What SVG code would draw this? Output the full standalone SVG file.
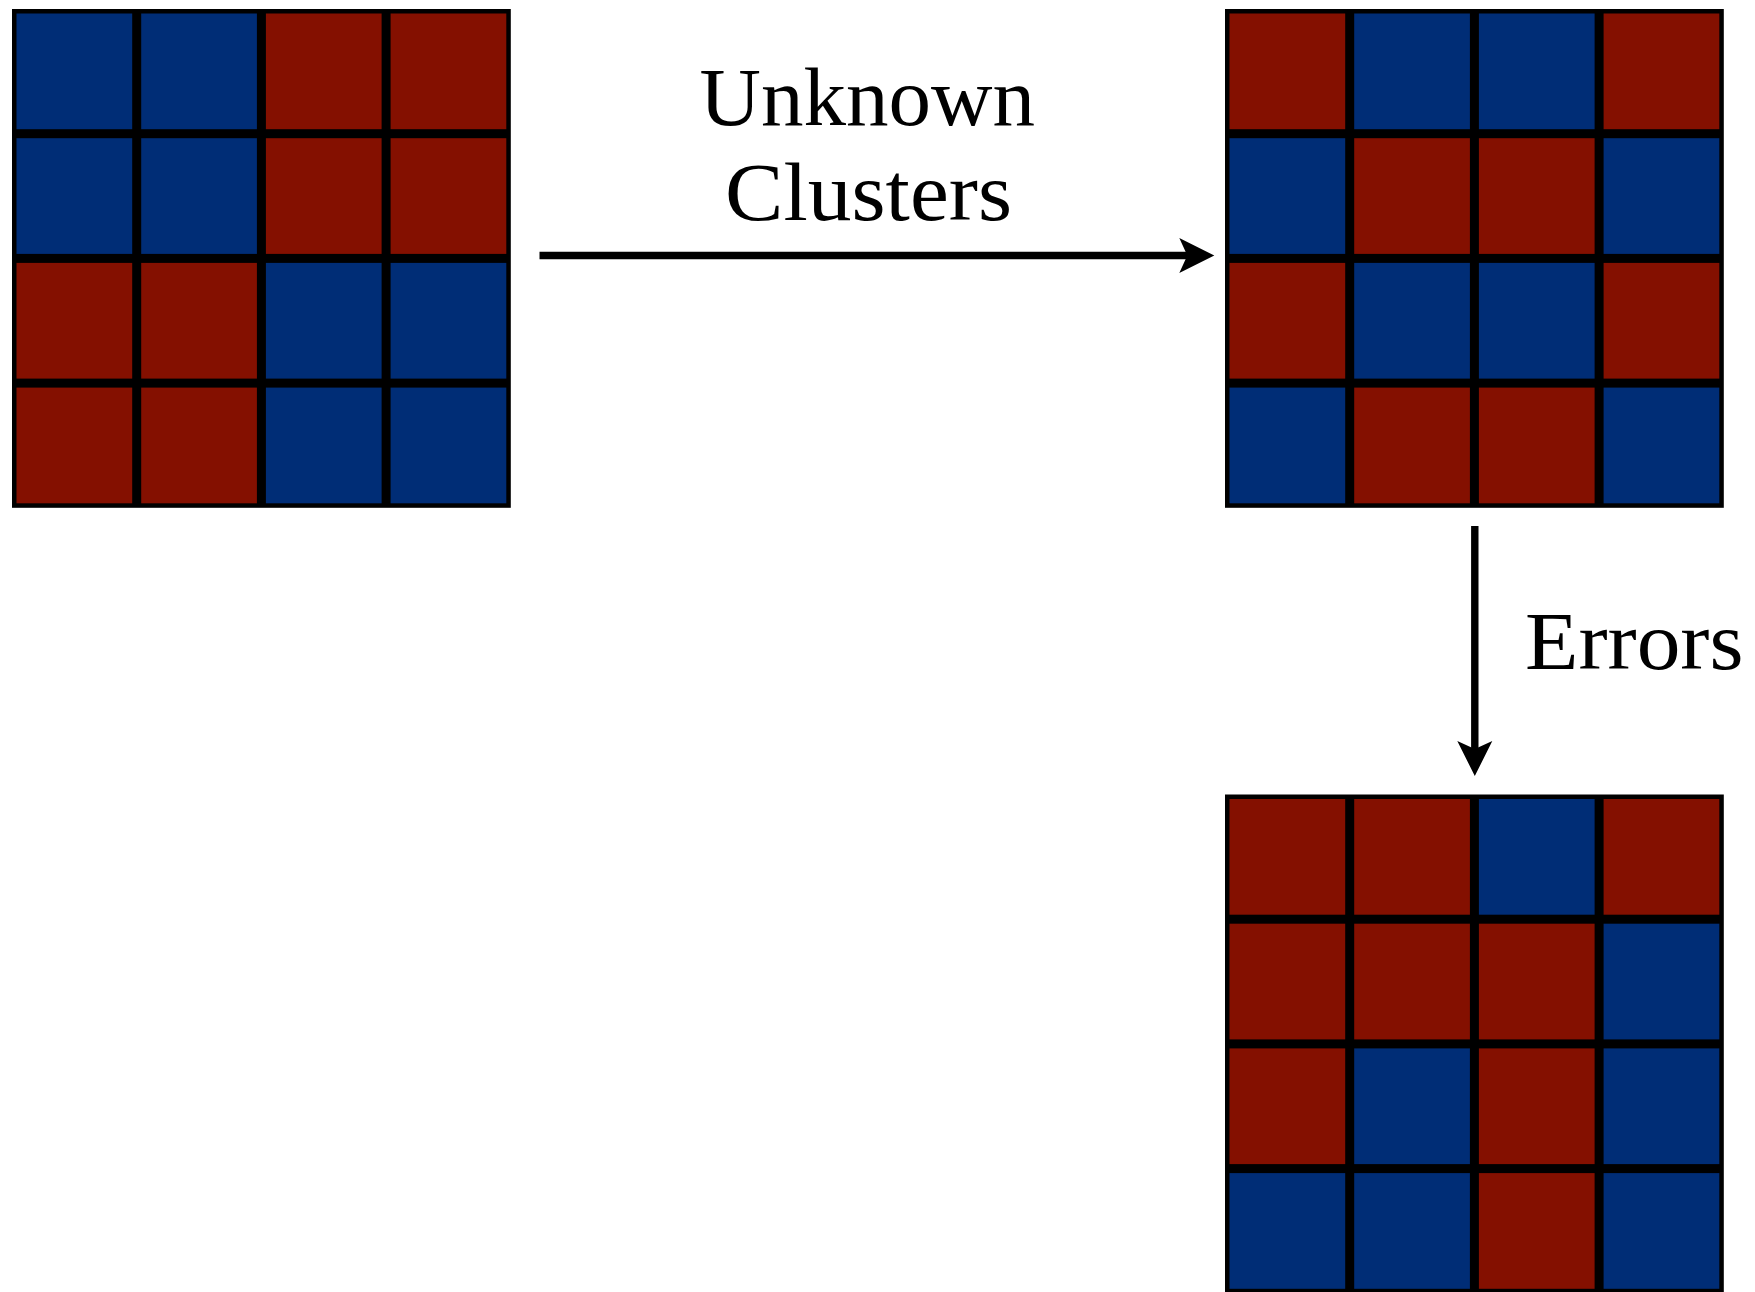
<svg xmlns="http://www.w3.org/2000/svg" width="1755" height="1292" viewBox="0 0 1755 1292">
<style>
.frame{fill:#000}
.b{fill:#002D76}
.r{fill:#841000}
.lbl{font-family:"Liberation Serif","Times New Roman",serif;font-size:82px;fill:#000}
.conn{stroke:#000;stroke-width:7.4;fill:none}
.head{fill:#000}
</style>
<rect width="1755" height="1292" fill="#fff"/>
<g id="grid-input" transform="translate(12,9)">
<rect class="frame" x="0" y="0" width="498.8" height="498.8"/>
<rect class="b" x="4.5" y="4.5" width="115.7" height="115.7"/>
<rect class="b" x="129.2" y="4.5" width="115.7" height="115.7"/>
<rect class="r" x="253.9" y="4.5" width="115.7" height="115.7"/>
<rect class="r" x="378.6" y="4.5" width="115.7" height="115.7"/>
<rect class="b" x="4.5" y="129.2" width="115.7" height="115.7"/>
<rect class="b" x="129.2" y="129.2" width="115.7" height="115.7"/>
<rect class="r" x="253.9" y="129.2" width="115.7" height="115.7"/>
<rect class="r" x="378.6" y="129.2" width="115.7" height="115.7"/>
<rect class="r" x="4.5" y="253.9" width="115.7" height="115.7"/>
<rect class="r" x="129.2" y="253.9" width="115.7" height="115.7"/>
<rect class="b" x="253.9" y="253.9" width="115.7" height="115.7"/>
<rect class="b" x="378.6" y="253.9" width="115.7" height="115.7"/>
<rect class="r" x="4.5" y="378.6" width="115.7" height="115.7"/>
<rect class="r" x="129.2" y="378.6" width="115.7" height="115.7"/>
<rect class="b" x="253.9" y="378.6" width="115.7" height="115.7"/>
<rect class="b" x="378.6" y="378.6" width="115.7" height="115.7"/>
</g>
<g id="grid-shuffled" transform="translate(1225,9)">
<rect class="frame" x="0" y="0" width="498.8" height="498.8"/>
<rect class="r" x="4.5" y="4.5" width="115.7" height="115.7"/>
<rect class="b" x="129.2" y="4.5" width="115.7" height="115.7"/>
<rect class="b" x="253.9" y="4.5" width="115.7" height="115.7"/>
<rect class="r" x="378.6" y="4.5" width="115.7" height="115.7"/>
<rect class="b" x="4.5" y="129.2" width="115.7" height="115.7"/>
<rect class="r" x="129.2" y="129.2" width="115.7" height="115.7"/>
<rect class="r" x="253.9" y="129.2" width="115.7" height="115.7"/>
<rect class="b" x="378.6" y="129.2" width="115.7" height="115.7"/>
<rect class="r" x="4.5" y="253.9" width="115.7" height="115.7"/>
<rect class="b" x="129.2" y="253.9" width="115.7" height="115.7"/>
<rect class="b" x="253.9" y="253.9" width="115.7" height="115.7"/>
<rect class="r" x="378.6" y="253.9" width="115.7" height="115.7"/>
<rect class="b" x="4.5" y="378.6" width="115.7" height="115.7"/>
<rect class="r" x="129.2" y="378.6" width="115.7" height="115.7"/>
<rect class="r" x="253.9" y="378.6" width="115.7" height="115.7"/>
<rect class="b" x="378.6" y="378.6" width="115.7" height="115.7"/>
</g>
<g id="grid-errors" transform="translate(1225,794.5)">
<rect class="frame" x="0" y="0" width="498.8" height="498.8"/>
<rect class="r" x="4.5" y="4.5" width="115.7" height="115.7"/>
<rect class="r" x="129.2" y="4.5" width="115.7" height="115.7"/>
<rect class="b" x="253.9" y="4.5" width="115.7" height="115.7"/>
<rect class="r" x="378.6" y="4.5" width="115.7" height="115.7"/>
<rect class="r" x="4.5" y="129.2" width="115.7" height="115.7"/>
<rect class="r" x="129.2" y="129.2" width="115.7" height="115.7"/>
<rect class="r" x="253.9" y="129.2" width="115.7" height="115.7"/>
<rect class="b" x="378.6" y="129.2" width="115.7" height="115.7"/>
<rect class="r" x="4.5" y="253.9" width="115.7" height="115.7"/>
<rect class="b" x="129.2" y="253.9" width="115.7" height="115.7"/>
<rect class="r" x="253.9" y="253.9" width="115.7" height="115.7"/>
<rect class="b" x="378.6" y="253.9" width="115.7" height="115.7"/>
<rect class="b" x="4.5" y="378.6" width="115.7" height="115.7"/>
<rect class="b" x="129.2" y="378.6" width="115.7" height="115.7"/>
<rect class="r" x="253.9" y="378.6" width="115.7" height="115.7"/>
<rect class="b" x="378.6" y="378.6" width="115.7" height="115.7"/>
</g>
<g id="connectors">
<line class="conn" x1="539.5" y1="255.5" x2="1188" y2="255.5"/>
<path class="head" d="M1214.3,255.5 L1179.3,238 L1187.3,255.5 L1179.3,273 Z"/>
<line class="conn" x1="1474.8" y1="526" x2="1474.8" y2="750"/>
<path class="head" d="M1474.8,776 L1457.3,741 L1474.8,749 L1492.3,741 Z"/>
</g>
<g id="labels">
<text class="lbl" x="699.5" y="125" textLength="335.5" lengthAdjust="spacingAndGlyphs">Unknown</text>
<text class="lbl" x="725" y="220" textLength="287" lengthAdjust="spacingAndGlyphs">Clusters</text>
<text class="lbl" x="1525" y="669" textLength="218.5" lengthAdjust="spacingAndGlyphs">Errors</text>
</g>
</svg>
